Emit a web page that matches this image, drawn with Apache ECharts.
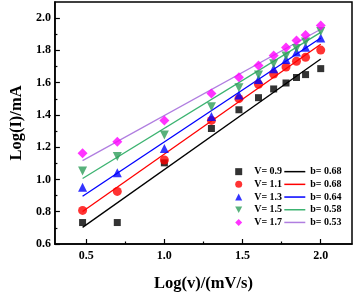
<!DOCTYPE html>
<html><head><meta charset="utf-8">
<script src="https://cdn.jsdelivr.net/npm/echarts@6/dist/echarts.min.js"></script>
<style>html,body{margin:0;padding:0;background:#fff}#c{width:354px;height:297px}</style>
</head><body><div id="c"></div>
<script>
const logV = [0.477, 0.699, 1.0, 1.301, 1.477, 1.602, 1.699, 1.778, 1.845, 1.903, 2.0];
const v09 = [0.733, 0.733, 1.103, 1.316, 1.432, 1.507, 1.561, 1.598, 1.632, 1.650, 1.687];
const v11 = [0.808, 0.926, 1.121, 1.366, 1.501, 1.590, 1.654, 1.697, 1.733, 1.757, 1.802];
const v13 = [0.951, 1.042, 1.192, 1.390, 1.523, 1.620, 1.686, 1.743, 1.790, 1.820, 1.877];
const v15 = [1.053, 1.143, 1.276, 1.450, 1.569, 1.648, 1.717, 1.766, 1.812, 1.852, 1.917];
const v17 = [1.163, 1.234, 1.366, 1.533, 1.634, 1.707, 1.769, 1.818, 1.861, 1.895, 1.955];
const fitX = [0.477, 2.0];
const fit09 = [0.703, 1.747];
const fit11 = [0.802, 1.838];
const fit13 = [0.896, 1.877];
const fit15 = [1.006, 1.912];
const fit17 = [1.117, 1.931];
const vNames = ['V= 0.9', 'V= 1.1', 'V= 1.3', 'V= 1.5', 'V= 1.7'];
const bNames = ['b= 0.68', 'b= 0.68', 'b= 0.64', 'b= 0.58', 'b= 0.53'];
const xTicks = [0.5, 1.0, 1.5, 2.0];
const xMinor = [0.75, 1.25, 1.75];
const yTicks = [0.6, 0.8, 1.0, 1.2, 1.4, 1.6, 1.8, 2.0];
const yMinor = [0.7, 0.9, 1.1, 1.3, 1.5, 1.7, 1.9];

const pts = [v09, v11, v13, v15, v17];
const fits = [fit09, fit11, fit13, fit15, fit17];
const markColors = ['#000000', '#ff0000', '#0000ff', '#2e9e5a', '#ff00ff'];
const lineColors = ['#000000', '#ff0000', '#0000ff', '#3cb371', '#b07ee0'];
const symbols = ['rect', 'circle', 'triangle', 'path://M0,0 L10,0 L5,9 Z', 'diamond'];
const sizes = [7, 9, 9, 9, 10];
const FONT = '"Liberation Serif", "Times New Roman", serif';
const fitIds = ['fit0', 'fit1', 'fit2', 'fit3', 'fit4'];

const series = [];
pts.forEach((arr, i) => {
  series.push({
    name: vNames[i], type: 'scatter', xAxisIndex: 0, yAxisIndex: 0,
    symbol: symbols[i], symbolSize: sizes[i],
    itemStyle: {color: markColors[i]},
    data: logV.map((x, k) => [x, arr[k]]), z: 3
  });
});
fits.forEach((arr, i) => {
  series.push({
    name: fitIds[i], type: 'line', xAxisIndex: 0, yAxisIndex: 0,
    showSymbol: false, symbol: 'none',
    lineStyle: {color: lineColors[i], width: 1.3},
    itemStyle: {color: lineColors[i]},
    data: fitX.map((x, k) => [x, arr[k]]), z: 2
  });
});

const chart = echarts.init(document.getElementById('c'));
chart.setOption({
  animation: false,
  backgroundColor: '#fff',
  grid: {left: 37, right: 2, top: 2, bottom: 43, show: true, borderColor: '#000', borderWidth: 1.5, backgroundColor: 'transparent'},
  xAxis: [{
    type: 'value', min: 0.3, max: 2.2,
    name: 'Log(v)/(mV/s)', nameLocation: 'middle', nameGap: 31,
    nameTextStyle: {fontFamily: FONT, fontWeight: 'bold', fontSize: 16.5, color: '#000'},
    axisLine: {show: true, lineStyle: {color: '#000', width: 1.5}},
    axisTick: {show: true, inside: true, length: 5, customValues: xTicks, lineStyle: {color: '#000', width: 1.2}},
    axisLabel: {customValues: xTicks, formatter: v => v.toFixed(1), fontFamily: FONT, fontWeight: 'bold', fontSize: 12, color: '#000', margin: 6},
    splitLine: {show: false}
  }, {
    type: 'value', min: 0.3, max: 2.2, position: 'bottom',
    axisLine: {show: false},
    axisTick: {show: true, inside: true, length: 2.5, customValues: xMinor, lineStyle: {color: '#000', width: 1.2}},
    axisLabel: {show: false}, splitLine: {show: false}
  }],
  yAxis: [{
    type: 'value', min: 0.6, max: 2.1,
    name: 'Log(I)/mA', nameLocation: 'middle', nameGap: 24,
    nameTextStyle: {fontFamily: FONT, fontWeight: 'bold', fontSize: 16.5, color: '#000'},
    axisLine: {show: true, lineStyle: {color: '#000', width: 1.5}},
    axisTick: {show: true, inside: true, length: 5, customValues: yTicks, lineStyle: {color: '#000', width: 1.2}},
    axisLabel: {customValues: yTicks, formatter: v => v.toFixed(1), fontFamily: FONT, fontWeight: 'bold', fontSize: 12, color: '#000', margin: 4},
    splitLine: {show: false}
  }, {
    type: 'value', min: 0.6, max: 2.1, position: 'left',
    axisLine: {show: false},
    axisTick: {show: true, inside: true, length: 2.5, customValues: yMinor, lineStyle: {color: '#000', width: 1.2}},
    axisLabel: {show: false}, splitLine: {show: false}
  }],
  legend: [{
    data: vNames, orient: 'vertical', left: 235.2, top: 165.3, padding: 0,
    itemWidth: 7, itemHeight: 7, itemGap: 0,
    textStyle: {fontFamily: FONT, fontWeight: 'bold', fontSize: 10, color: '#000', lineHeight: 12.7, padding: [0, 0, 0, 7]}
  }, {
    data: fitIds.map(n => ({name: n, icon: 'rect'})), orient: 'vertical', left: 284.3, top: 165.3, padding: 0,
    itemWidth: 21, itemHeight: 1.5, itemGap: 0,
    formatter: n => bNames[fitIds.indexOf(n)],
    textStyle: {fontFamily: FONT, fontWeight: 'bold', fontSize: 10, color: '#000', lineHeight: 12.7}
  }],
  series: series
});
</script></body></html>
